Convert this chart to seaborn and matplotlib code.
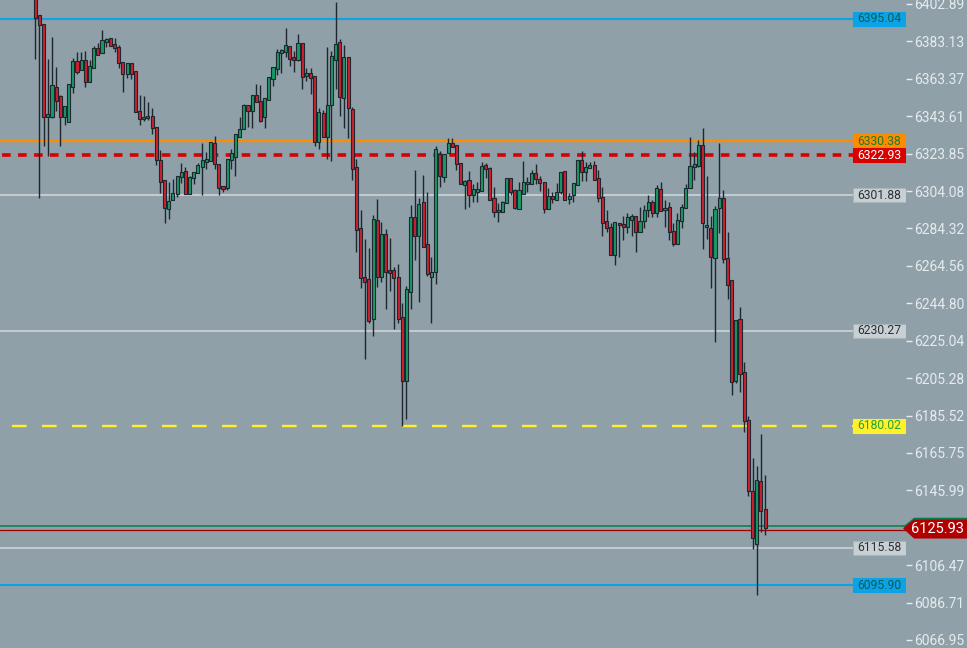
import matplotlib
matplotlib.use("Agg")
import matplotlib.pyplot as plt
import matplotlib.transforms as mtransforms
from matplotlib.patches import Polygon, Rectangle
import pandas as pd
import seaborn as sns

# ---- candle data ----
opens = [6409.0, 6397.1, 6392.3, 6343.2, 6343.2, 6359.1, 6354.3, 6343.2, 6340.5, 6359.1,
         6372.8, 6368.0, 6373.3, 6361.7, 6369.1, 6379.6, 6377.0, 6382.8, 6384.9, 6381.8,
         6380.2, 6372.2, 6365.9, 6371.7, 6367.5, 6346.4, 6342.1, 6342.7, 6343.7, 6337.9,
         6320.5, 6310.0, 6294.6, 6299.4, 6302.6, 6311.5, 6314.7, 6302.6, 6311.0, 6313.7,
         6316.8, 6319.5, 6320.0, 6329.5, 6318.4, 6306.8, 6305.7, 6320.5, 6322.1, 6332.6,
         6336.8, 6349.6, 6346.4, 6354.8, 6351.7, 6343.2, 6352.2, 6363.3, 6368.5, 6377.0,
         6377.5, 6380.7, 6374.9, 6373.3, 6382.3, 6364.8, 6366.4, 6364.8, 6330.0, 6345.3,
         6332.6, 6349.6, 6373.3, 6382.8, 6353.3, 6374.9, 6347.4, 6316.8, 6284.5, 6258.7,
         6257.7, 6236.5, 6288.8, 6258.7, 6281.4, 6262.4, 6262.4, 6258.7, 6237.5, 6203.7,
         6250.8, 6290.4, 6280.3, 6298.3, 6276.1, 6258.7, 6261.4, 6323.7, 6311.5, 6324.2,
         6329.5, 6328.4, 6318.9, 6307.3, 6310.0, 6302.0, 6303.6, 6304.1, 6317.9, 6316.3,
         6300.4, 6293.0, 6293.0, 6297.8, 6311.0, 6304.7, 6294.6, 6302.6, 6307.8, 6307.8,
         6313.7, 6310.5, 6308.9, 6294.6, 6301.5, 6299.4, 6303.6, 6314.7, 6299.9, 6302.0,
         6307.3, 6320.5, 6314.2, 6316.3, 6317.9, 6311.0, 6301.0, 6288.2, 6285.1, 6270.3,
         6287.2, 6286.6, 6285.1, 6288.8, 6290.9, 6282.4, 6288.2, 6294.1, 6298.3, 6292.5,
         6305.2, 6294.1, 6295.6, 6282.9, 6276.1, 6288.2, 6295.1, 6305.7, 6316.8, 6317.4,
         6328.4, 6285.1, 6284.5, 6268.7, 6295.1, 6300.4, 6268.7, 6257.1, 6203.7, 6236.5,
         6208.5, 6183.2, 6145.6, 6117.6, 6150.9, 6136.2]
highs = [6411.0, 6397.1, 6392.3, 6373.8, 6385.5, 6369.6, 6354.8, 6349.0, 6360.6, 6374.4,
         6377.5, 6377.5, 6378.1, 6373.3, 6380.7, 6382.3, 6389.2, 6384.9, 6384.9, 6384.9,
         6381.2, 6372.2, 6371.7, 6371.7, 6367.5, 6354.8, 6354.3, 6351.1, 6348.0, 6337.9,
         6325.8, 6310.0, 6308.9, 6310.5, 6312.1, 6318.9, 6316.8, 6312.1, 6314.2, 6318.9,
         6329.5, 6324.8, 6330.0, 6333.2, 6318.4, 6306.8, 6321.0, 6326.3, 6334.2, 6343.2,
         6350.1, 6349.6, 6354.8, 6360.6, 6360.1, 6353.3, 6364.3, 6369.6, 6379.1, 6379.1,
         6390.2, 6380.7, 6378.1, 6387.0, 6382.3, 6369.1, 6369.1, 6364.8, 6348.0, 6346.9,
         6380.2, 6378.1, 6403.9, 6384.4, 6381.2, 6374.9, 6348.5, 6321.0, 6294.1, 6278.7,
         6274.0, 6291.4, 6299.9, 6287.7, 6284.0, 6279.2, 6264.0, 6265.5, 6245.0, 6254.0,
         6296.7, 6315.2, 6300.4, 6312.6, 6303.6, 6269.2, 6327.9, 6325.3, 6323.7, 6332.1,
         6332.1, 6328.4, 6318.9, 6310.0, 6314.7, 6307.8, 6308.9, 6319.5, 6318.9, 6316.8,
         6306.3, 6297.8, 6298.8, 6311.0, 6311.0, 6305.2, 6308.9, 6320.0, 6311.5, 6315.2,
         6318.4, 6312.1, 6308.9, 6305.7, 6303.6, 6308.4, 6314.2, 6314.7, 6303.1, 6308.4,
         6320.5, 6325.3, 6319.5, 6319.5, 6320.0, 6315.2, 6306.3, 6294.1, 6287.2, 6287.7,
         6287.2, 6290.9, 6292.5, 6291.9, 6290.9, 6295.6, 6296.7, 6302.0, 6299.4, 6307.3,
         6308.9, 6299.4, 6298.3, 6287.2, 6292.5, 6297.2, 6307.8, 6332.6, 6324.8, 6331.0,
         6337.4, 6312.1, 6290.9, 6296.2, 6329.5, 6304.7, 6282.4, 6257.1, 6236.0, 6242.9,
         6213.8, 6185.3, 6163.0, 6158.8, 6175.7, 6154.1]
lows = [6373.8, 6300.4, 6327.9, 6322.6, 6342.7, 6346.4, 6327.9, 6339.0, 6340.5, 6355.9,
        6365.9, 6368.0, 6359.1, 6361.7, 6369.1, 6376.0, 6377.0, 6380.2, 6380.7, 6377.5,
        6369.1, 6356.4, 6363.8, 6363.3, 6345.8, 6339.0, 6341.1, 6341.6, 6334.2, 6317.9,
        6303.1, 6287.2, 6289.3, 6299.4, 6301.0, 6308.4, 6302.6, 6302.6, 6307.8, 6313.7,
        6302.0, 6315.8, 6320.0, 6315.8, 6302.0, 6303.6, 6304.7, 6315.8, 6312.1, 6332.6,
        6336.8, 6337.9, 6337.4, 6351.1, 6340.5, 6337.4, 6352.2, 6359.6, 6365.4, 6366.4,
        6374.9, 6370.1, 6367.0, 6372.8, 6358.0, 6362.2, 6355.4, 6327.9, 6326.3, 6332.6,
        6321.0, 6320.0, 6358.0, 6343.7, 6337.4, 6332.1, 6310.0, 6271.9, 6252.9, 6215.3,
        6234.4, 6227.5, 6253.5, 6256.1, 6241.8, 6251.4, 6231.2, 6234.4, 6180.1, 6183.8,
        6241.8, 6267.6, 6245.5, 6274.5, 6259.2, 6234.4, 6255.0, 6306.3, 6308.9, 6324.2,
        6327.4, 6315.2, 6307.8, 6294.6, 6295.6, 6298.3, 6298.3, 6304.1, 6311.0, 6299.4,
        6290.4, 6287.7, 6293.0, 6297.8, 6302.0, 6294.6, 6294.6, 6302.6, 6303.6, 6307.8,
        6307.8, 6304.1, 6292.5, 6294.6, 6297.8, 6299.4, 6302.6, 6299.4, 6297.2, 6298.3,
        6307.3, 6309.4, 6309.4, 6316.3, 6310.0, 6298.3, 6280.3, 6282.4, 6270.3, 6265.0,
        6269.2, 6278.2, 6281.9, 6280.3, 6271.9, 6282.4, 6284.5, 6290.4, 6290.4, 6290.4,
        6293.5, 6285.1, 6278.2, 6275.0, 6276.1, 6284.5, 6295.1, 6305.7, 6310.0, 6316.8,
        6273.5, 6278.7, 6252.9, 6224.3, 6281.9, 6266.1, 6247.1, 6196.4, 6202.7, 6197.9,
        6176.8, 6143.0, 6115.0, 6090.7, 6123.9, 6122.4]
closes = [6395.5, 6391.8, 6343.2, 6344.8, 6360.1, 6351.7, 6343.2, 6349.0, 6360.6, 6372.8,
          6367.0, 6373.3, 6361.7, 6370.1, 6379.6, 6376.0, 6383.9, 6384.4, 6380.7, 6379.6,
          6371.7, 6365.9, 6371.7, 6365.9, 6345.8, 6342.1, 6343.2, 6343.7, 6337.4, 6320.5,
          6308.9, 6295.1, 6298.8, 6303.1, 6312.1, 6314.2, 6302.6, 6311.5, 6314.2, 6317.9,
          6320.5, 6321.0, 6330.0, 6318.4, 6305.7, 6305.2, 6321.0, 6324.2, 6334.2, 6336.8,
          6349.6, 6346.4, 6354.8, 6351.1, 6341.1, 6353.3, 6364.3, 6369.6, 6377.5, 6378.6,
          6381.2, 6373.8, 6373.3, 6382.3, 6364.3, 6366.4, 6363.8, 6330.0, 6345.8, 6332.6,
          6349.6, 6375.4, 6381.8, 6353.8, 6374.9, 6348.0, 6315.8, 6283.5, 6258.2, 6256.1,
          6235.5, 6289.3, 6258.7, 6281.4, 6261.4, 6260.8, 6258.2, 6236.5, 6203.7, 6252.4,
          6290.4, 6280.3, 6297.2, 6274.5, 6260.3, 6261.4, 6326.3, 6312.1, 6323.7, 6329.5,
          6327.4, 6318.4, 6307.8, 6309.4, 6302.0, 6305.2, 6305.2, 6317.4, 6315.8, 6299.4,
          6293.0, 6294.1, 6298.3, 6311.0, 6303.6, 6295.1, 6304.7, 6308.9, 6308.9, 6313.7,
          6310.5, 6308.4, 6294.6, 6301.5, 6299.9, 6303.6, 6314.2, 6299.4, 6301.5, 6308.4,
          6320.5, 6314.2, 6316.8, 6317.9, 6310.0, 6300.4, 6287.2, 6284.5, 6270.3, 6287.7,
          6286.1, 6285.1, 6290.4, 6290.9, 6282.4, 6288.2, 6294.1, 6298.3, 6292.5, 6305.7,
          6293.5, 6295.1, 6282.4, 6276.1, 6288.8, 6295.6, 6305.7, 6317.4, 6318.4, 6328.4,
          6287.2, 6286.1, 6269.2, 6294.6, 6300.4, 6268.2, 6254.5, 6203.2, 6236.0, 6207.5,
          6182.7, 6145.6, 6120.8, 6151.4, 6135.1, 6125.93]

# ---- price axis ----
tick_values = [6402.89, 6383.13, 6363.37, 6343.61, 6323.85, 6304.08, 6284.32, 6264.56,
               6244.80, 6225.04, 6205.28, 6185.52, 6165.75, 6145.99, 6106.47, 6086.71, 6066.95]
tick_labels = ["6402.89", "6383.13", "6363.37", "6343.61", "6323.85", "6304.08", "6284.32",
               "6264.56", "6244.80", "6225.04", "6205.28", "6185.52", "6165.75", "6145.99",
               "6106.47", "6086.71", "6066.95"]

# ---- horizontal levels ----
level_prices = [6395.04, 6330.38, 6322.93, 6301.88, 6230.27, 6180.02, 6115.58, 6095.90]
level_labels = ["6395.04", "6330.38", "6322.93", "6301.88", "6230.27", "6180.02", "6115.58", "6095.90"]
level_colors = ["#0ba2e6", "#ff8c00", "#d90000", "#c9d0d4", "#c9d0d4", "#fff02a", "#c9d0d4", "#0ba2e6"]
level_text = ["#0c5d55", "#1b7c2c", "#ffffff", "#2a2f33", "#2a2f33", "#22a23a", "#2a2f33", "#0c5d55"]
level_style = ["solid", "solid", "red_dash", "solid", "solid", "yellow_dash", "solid", "solid"]
level_width = [1.5, 1.7, 2.6, 1.3, 1.3, 1.7, 1.3, 1.5]

last_price = 6125.93
ask_line = 6127.0
bid_line = 6125.3

BG = "#8fa0a9"
UP = "#179a68"
DOWN = "#d01f2e"
EDGE = "#1d272d"

df = pd.DataFrame({"open": opens, "high": highs, "low": lows, "close": closes})
df["idx"] = range(len(df))
df["bottom"] = df[["open", "close"]].min(axis=1)
df["height"] = (df["close"] - df["open"]).abs().clip(lower=0.9)
df["color"] = [UP if c >= o else DOWN for o, c in zip(df["open"], df["close"])]

sns.set_style("white", {"axes.facecolor": BG, "figure.facecolor": BG})
plt.rcParams["font.family"] = ["Roboto", "DejaVu Sans"]
plt.rcParams["lines.scale_dashes"] = False

fig = plt.figure(figsize=(9.67, 6.48), dpi=100)
ax = fig.add_axes([0, 0, 906 / 967, 1])
ax.set_facecolor(BG)

# levels
for p, c, st, lw in zip(level_prices, level_colors, level_style, level_width):
    line = ax.axhline(p, color=c, lw=lw, zorder=1)
    if st == "red_dash":
        line.set_linestyle((10.0, (6.2, 5.3)))
    elif st == "yellow_dash":
        line.set_linestyle((13.0, (10.6, 11.0)))

ax.axhline(ask_line, color="#0a7a4c", lw=1.1, zorder=1)
ax.axhline(bid_line, color="#a00000", lw=0.9, zorder=1)

# candles
ax.vlines(df["idx"], df["low"], df["high"], color=EDGE, lw=1.0, zorder=3)
ax.bar(df["idx"], df["height"], bottom=df["bottom"], width=0.74,
       color=df["color"], edgecolor=EDGE, linewidth=0.8, zorder=4)

ax.set_xlim(-8.47, 208.8)
ax.set_ylim(6062.72, 6405.0)

# level tags at the right edge
blend = mtransforms.blended_transform_factory(ax.transAxes, ax.transData)
tag_left = 853 / 906
for p, lab, c, tc in zip(level_prices, level_labels, level_colors, level_text):
    ec = "#aab4b9" if c == "#c9d0d4" else c
    ax.add_patch(Rectangle((tag_left, p - 3.7), 1 - tag_left, 7.4, transform=blend,
                           facecolor=c, edgecolor=ec, lw=0.8, zorder=6))
    ax.text((tag_left + 1) / 2, p, lab, transform=blend, ha="center", va="center",
            fontsize=8.7, color=tc, zorder=7)

# last price tag
w = 906
tip = 3 / w
notch = 11 / w
right = 967 / w
green_tag = Polygon([(1 - tip, last_price + 0.8), (1 + notch - tip, last_price + 5.6),
                     (right, last_price + 5.6), (right, last_price + 3.0),
                     (1 + notch, last_price + 3.0)],
                    closed=True, transform=blend, clip_on=False,
                    facecolor="#0a7a4c", edgecolor="none", zorder=8)
red_tag = Polygon([(1 - tip, last_price), (1 + notch - tip, last_price + 4.6),
                   (right, last_price + 4.6), (right, last_price - 5.4),
                   (1 + notch - tip, last_price - 5.4)],
                  closed=True, transform=blend, clip_on=False,
                  facecolor="#b00000", edgecolor="none", zorder=9)
ax.add_patch(green_tag)
ax.add_patch(red_tag)
ax.text(937 / w, last_price - 0.4, f"{last_price:.2f}", transform=blend, ha="center",
        va="center", fontsize=10.5, color="white", zorder=10, clip_on=False)

# axes cosmetics
ax.yaxis.tick_right()
ax.set_yticks(tick_values)
ax.set_yticklabels(tick_labels)
ax.tick_params(axis="y", colors="#e6ebee", labelsize=10, length=4, width=1, pad=2, right=True)
ax.tick_params(axis="x", bottom=False, labelbottom=False)
for s in ax.spines.values():
    s.set_visible(False)

fig.savefig("out.png", dpi=100, facecolor=BG)
